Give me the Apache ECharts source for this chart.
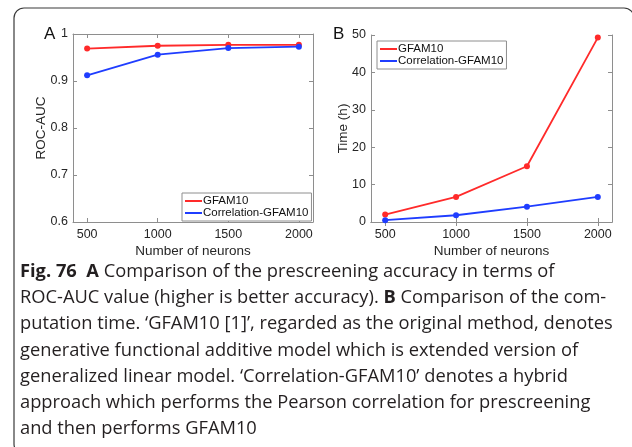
<!DOCTYPE html>
<html>
<head>
<meta charset="utf-8">
<script src="https://cdn.jsdelivr.net/npm/echarts@6/dist/echarts.min.js"></script>
<style>html,body{margin:0;padding:0;background:#fff;}#c{width:632px;height:447px;}</style>
</head>
<body>
<div id="c"></div>
<script>
const neurons = [500, 1000, 1500, 2000];
const xTicks = [500, 1000, 1500, 2000];
const seriesNames = ['GFAM10', 'Correlation-GFAM10'];
const aucGFAM = [0.969, 0.975, 0.977, 0.977];
const aucCorr = [0.912, 0.956, 0.970, 0.973];
const timeGFAM = [2.0, 6.7, 14.9, 49.3];
const timeCorr = [0.5, 1.8, 4.1, 6.7];
const captionLines = [
  '{b|Fig. 76  A} Comparison of the prescreening accuracy in terms of',
  'ROC-AUC value (higher is better accuracy). {b|B} Comparison of the com-',
  'putation time. ‘GFAM10 [1]’, regarded as the original method, denotes',
  'generative functional additive model which is extended version of',
  'generalized linear model. ‘Correlation-GFAM10’ denotes a hybrid',
  'approach which performs the Pearson correlation for prescreening',
  'and then performs GFAM10'
];

const RED = '#ff2a2a', BLUE = '#1f3dff', AX = '#8e8e8e', TXT = '#262626';
const FONT = '"Liberation Sans", Arial, sans-serif';
const CAP = 18.3;
const pair = arr => neurons.map((x, i) => [x, arr[i]]);

function xAx(gi, pos) {
  const main = pos === 'bottom';
  return {
    type: 'value', gridIndex: gi, position: pos, min: 400, max: 2100,
    axisLine: {show: true, lineStyle: {color: AX, width: 1}},
    axisTick: {show: true, inside: true, length: 4, customValues: xTicks, lineStyle: {color: AX}},
    axisLabel: {show: main, customValues: xTicks, formatter: v => String(v), color: TXT, fontSize: 12.5, fontFamily: FONT, margin: 6},
    splitLine: {show: false},
    name: main ? 'Number of neurons' : '', nameLocation: 'middle', nameGap: 22, nameMoveOverlap: false,
    nameTextStyle: {color: TXT, fontSize: 13.5, fontFamily: FONT}
  };
}
function yAx(gi, pos, min, max, interval, name, gap) {
  const main = pos === 'left';
  return {
    type: 'value', gridIndex: gi, position: pos, min, max, interval,
    axisLine: {show: true, lineStyle: {color: AX, width: 1}},
    axisTick: {show: true, inside: true, length: 4, lineStyle: {color: AX}},
    axisLabel: {show: main, color: TXT, fontSize: 12.5, fontFamily: FONT, margin: 5},
    splitLine: {show: false},
    name: main ? name : '', nameLocation: 'middle', nameGap: gap, nameMoveOverlap: false,
    nameTextStyle: {color: TXT, fontSize: 13.5, fontFamily: FONT}
  };
}
function ser(name, data, xi, yi, color) {
  return {
    type: 'line', name, data, xAxisIndex: xi, yAxisIndex: yi,
    symbol: 'circle', symbolSize: 6, color,
    lineStyle: {color, width: 1.8}, itemStyle: {color},
    emphasis: {disabled: true}, animation: false
  };
}
function leg(left, top) {
  return {
    data: seriesNames, left, top, orient: 'vertical', icon: 'rect',
    itemWidth: 17, itemHeight: 2, itemGap: 0,
    padding: [2, 3, 2, 3],
    borderColor: AX, borderWidth: 1, backgroundColor: '#fff',
    textStyle: {color: '#111', fontSize: 11.5, fontFamily: FONT, padding: [0, 0, 0, -4], lineHeight: 11},
    selectedMode: false
  };
}

const chart = echarts.init(document.getElementById('c'), null, {renderer: 'canvas'});
const graphic = [
  {type: 'rect', shape: {x: 14, y: 8, width: 620, height: 446, r: 10},
   style: {fill: 'none', stroke: '#3a3a3a', lineWidth: 1.2}, z: 100},
  {type: 'text', left: 44, top: 26, style: {text: 'A', font: '17px ' + FONT, fill: '#111'}},
  {type: 'text', left: 333, top: 26, style: {text: 'B', font: '17px ' + FONT, fill: '#111'}}
];
captionLines.forEach((t, i) => {
  graphic.push({
    type: 'text', left: 20, top: 263 + i * 26.1,
    style: {
      text: t, fill: '#231f20', font: CAP + 'px "Open Sans", sans-serif',
      rich: {b: {fontWeight: 'bold', fontFamily: '"Open Sans", sans-serif', fontSize: CAP, fill: '#231f20'}}
    }
  });
});

chart.setOption({
  animation: false,
  backgroundColor: '#fff',
  grid: [
    {left: 73, top: 34, width: 240, height: 188},
    {left: 371, top: 35, width: 241, height: 187}
  ],
  xAxis: [xAx(0, 'bottom'), xAx(0, 'top'), xAx(1, 'bottom'), xAx(1, 'top')],
  yAxis: [
    yAx(0, 'left', 0.6, 1, 0.1, 'ROC-AUC', 25), yAx(0, 'right', 0.6, 1, 0.1, '', 0),
    yAx(1, 'left', 0, 50, 10, 'Time (h)', 21), yAx(1, 'right', 0, 50, 10, '', 0)
  ],
  legend: [leg(182, 193), leg(377, 41)],
  series: [
    ser(seriesNames[0], pair(aucGFAM), 0, 0, RED),
    ser(seriesNames[1], pair(aucCorr), 0, 0, BLUE),
    ser(seriesNames[0], pair(timeGFAM), 2, 2, RED),
    ser(seriesNames[1], pair(timeCorr), 2, 2, BLUE)
  ],
  graphic
});
</script>
</body>
</html>
